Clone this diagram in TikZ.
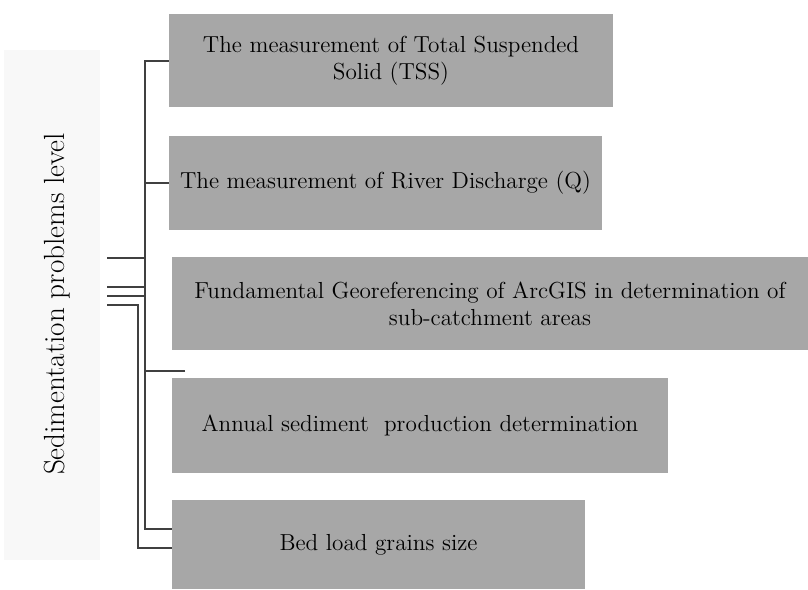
\documentclass[tikz,border=0pt]{standalone}
\usepackage{tikz}
\usetikzlibrary{positioning}

\definecolor{boxgray}{RGB}{167,167,167}
\definecolor{sidegray}{RGB}{248,248,248}

\begin{document}
\begin{tikzpicture}[x=0.02cm, y=-0.02cm,
                box/.style = {fill=boxgray, inner sep=0pt, align=center, font=\fontsize{13.2}{15.5}\selectfont},
                link/.style = {draw=black!75, line width=0.9pt}]
                \useasboundingbox (0,0) rectangle (808,589);

                \node[fill=sidegray, minimum width=1.92cm, minimum height=10.2cm] at (52, 305) (side) {};
                \node[rotate=90, font=\fontsize{16.6}{20}\selectfont] at (57, 304) (level) {Sedimentation problems level};

                \node[box, minimum width=8.88cm, minimum height=1.86cm] at (391, 60.5) (tss) {The measurement of Total Suspended\\Solid (TSS)};
                \node[box, minimum width=8.66cm, minimum height=1.88cm] at (385.5, 183) (disch) {The measurement of River Discharge (Q)};
                \node[box, minimum width=12.72cm, minimum height=1.86cm] at (490, 303.5) (geo) {Fundamental Georeferencing of ArcGIS in determination of\\sub-catchment areas};
                \node[box, minimum width=9.92cm, minimum height=1.9cm] at (420, 425.5) (annual) {Annual sediment\ \ production determination};
                \node[box, minimum width=8.26cm, minimum height=1.78cm] at (378.5, 544.5) (bed) {Bed load grains size};

                \coordinate (top) at (145, 61);
                \coordinate (bot) at (145, 529);
                \coordinate (low) at (138, 548);
                \coordinate (split) at (138, 305);
                \coordinate (stub) at (185, 371);
                \coordinate (in1) at (107, 258);
                \coordinate (in2) at (107, 287);
                \coordinate (in3) at (107, 296);
                \coordinate (in4) at (107, 305);

                \draw[link] (tss.west |- top) -- (top) -- (bot) -- (bed.west |- bot);
                \draw[link] (disch.west) -- (disch.west -| top);
                \draw[link] (stub) -- (stub -| top);
                \draw[link] (bed.west |- low) -- (low) -- (split) -- (in4);
                \draw[link] (in1) -- (in1 -| top);
                \draw[link] (in2) -- (in2 -| top);
                \draw[link] (in3) -- (in3 -| top);
            \end{tikzpicture}
\end{document}
